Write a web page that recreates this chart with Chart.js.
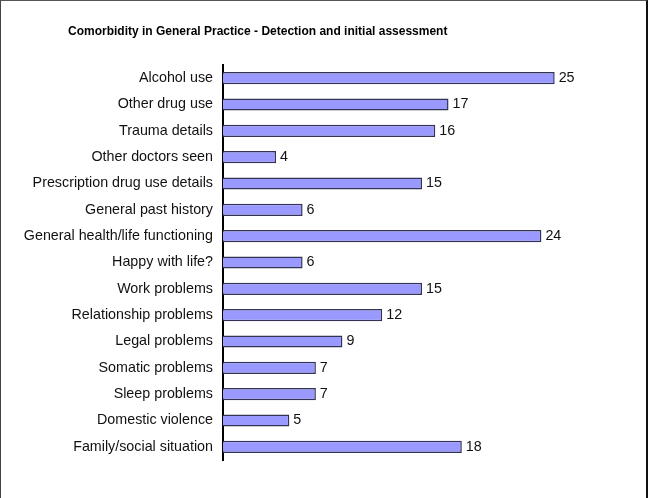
<!DOCTYPE html>
<html>
<head>
<meta charset="utf-8">
<script src="https://cdn.jsdelivr.net/npm/chart.js@4/dist/chart.umd.min.js"></script>
<style>
  body { margin: 0; background: #fff; }
  #wrap { position: relative; width: 651px; height: 498px; }
  #frame {
    position: absolute; left: 0; top: 0; width: 645px; height: 498px;
    border-left: 1px solid #444; border-top: 1px solid #555; border-right: 2px solid #111;
    box-sizing: content-box; pointer-events: none;
  }
</style>
</head>
<body>
<div id="wrap">
  <canvas id="chart" width="651" height="498"></canvas>
  <div id="frame"></div>
</div>
<script>
const titleText = "Comorbidity in General Practice - Detection and initial assessment";
const categories = [
    "Alcohol use",
    "Other drug use",
    "Trauma details",
    "Other doctors seen",
    "Prescription drug use details",
    "General past history",
    "General health/life functioning",
    "Happy with life?",
    "Work problems",
    "Relationship problems",
    "Legal problems",
    "Somatic problems",
    "Sleep problems",
    "Domestic violence",
    "Family/social situation"
];
const counts = [25, 17, 16, 4, 15, 6, 24, 6, 15, 12, 9, 7, 7, 5, 18];

const labelFont = "'Liberation Sans', Arial, sans-serif";

// writes the value just past the end of each bar
const valueLabels = {
    id: "valueLabels",
    afterDatasetsDraw(chart) {
        let ctx = chart.ctx;
        let meta = chart.getDatasetMeta(0);
        ctx.save();
        ctx.font = "14.3px " + labelFont;
        ctx.fillStyle = "#111";
        ctx.textAlign = "left";
        ctx.textBaseline = "middle";
        meta.data.forEach((bar, i) => {
            ctx.fillText(String(counts[i]), bar.x + 4, bar.y);
        });
        ctx.restore();
    }
};

// the left padding is only there to move the title; let the long
// category labels use that space instead of being clipped
const widenLabelArea = {
    id: "widenLabelArea",
    afterLayout(chart) {
        let y = chart.scales.y;
        y.left = 0;
        y.width = y.right;
    }
};

let ctx = document.getElementById("chart").getContext("2d");

new Chart(ctx, {
    type: "bar",
    data: {
        labels: categories,
        datasets: [{
            data: counts,
            backgroundColor: "#9999ff",
            borderColor: "#333355",
            borderWidth: 1.5,
            barPercentage: 0.46,
            categoryPercentage: 1
        }]
    },
    options: {
        indexAxis: "y",
        responsive: false,
        animation: false,
        layout: { padding: { left: 68, right: 30, top: 0, bottom: 38 } },
        scales: {
            x: { display: false, min: 0, max: 30 },
            y: {
                grid: { display: false, drawTicks: false },
                border: { display: true, color: "#000", width: 2 },
                ticks: {
                    color: "#111",
                    padding: 10,
                    font: { family: labelFont, size: 14.3 }
                },
                afterFit(scale) { scale.width = 155; }
            }
        },
        plugins: {
            legend: { display: false },
            tooltip: { enabled: false },
            title: {
                display: true,
                text: titleText,
                align: "start",
                color: "#000",
                font: { family: labelFont, size: 12, weight: "bold" },
                padding: { top: 24, bottom: 26.6 }
            }
        }
    },
    plugins: [valueLabels, widenLabelArea]
});
</script>
</body>
</html>
